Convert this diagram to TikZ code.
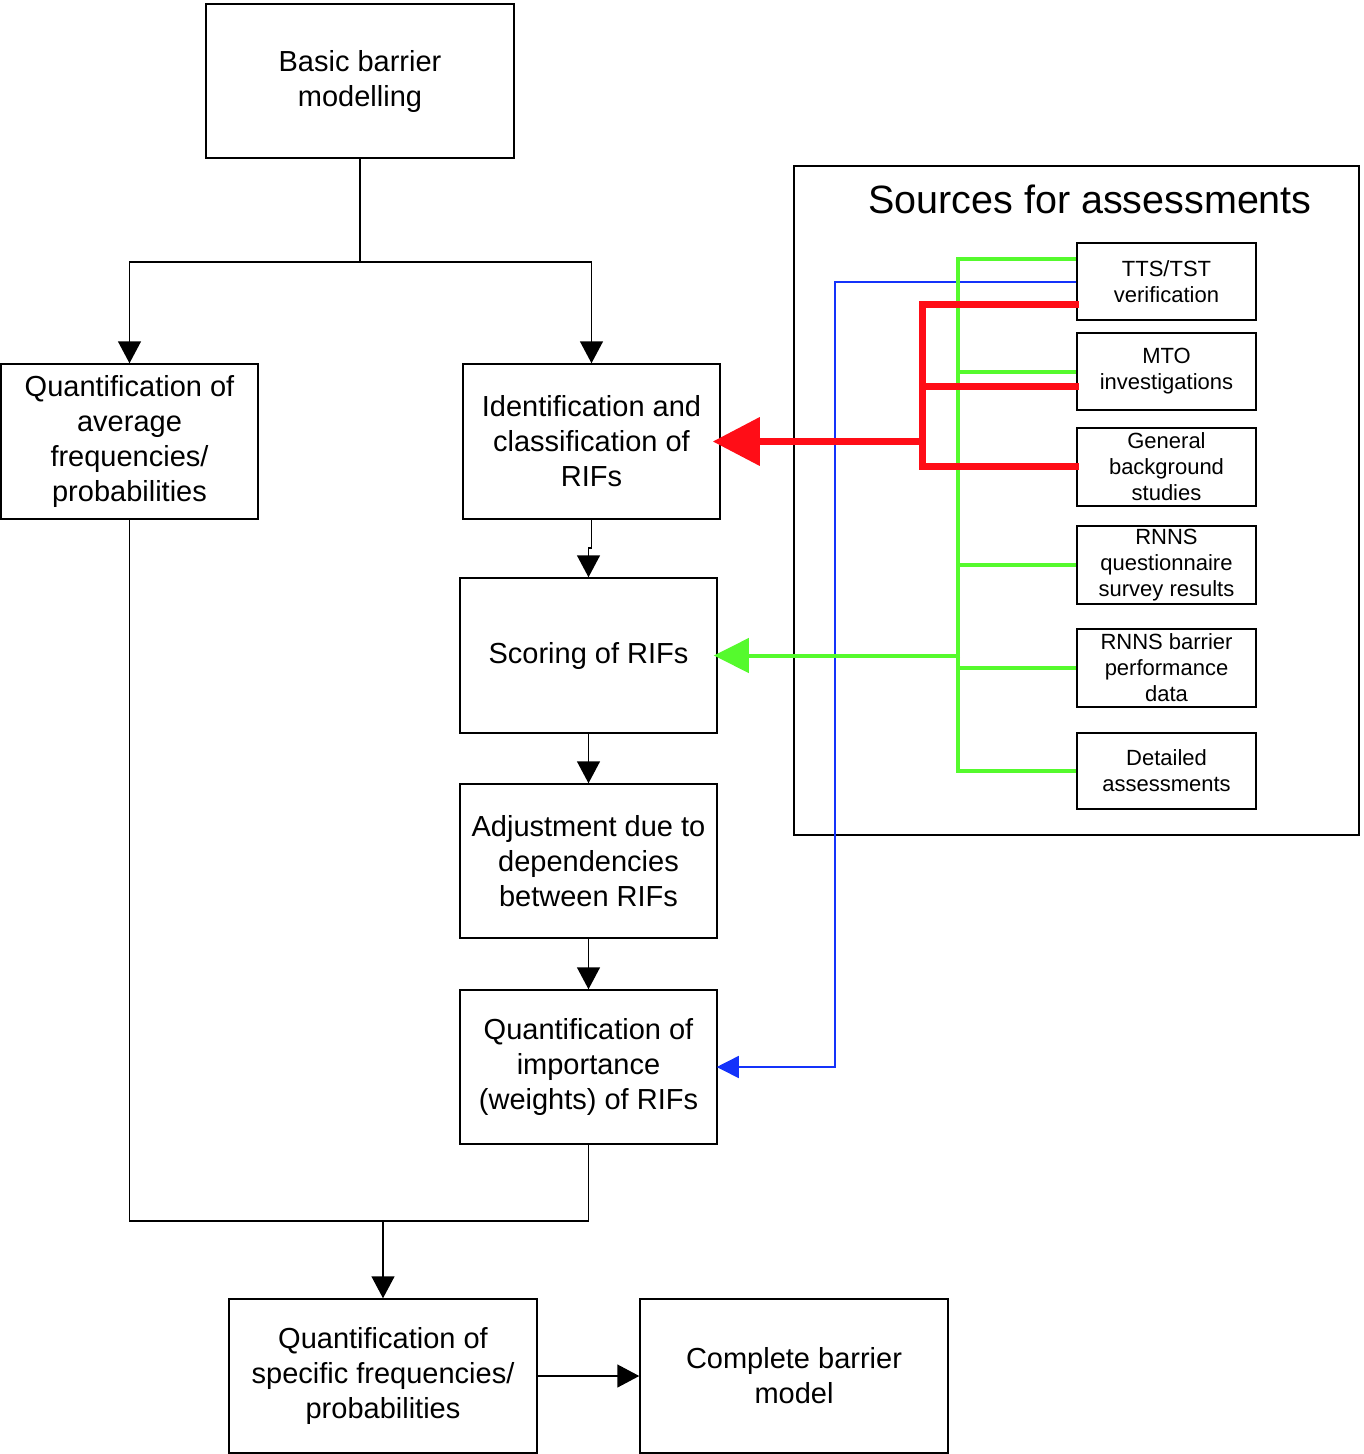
\documentclass[tikz,border=0pt]{standalone}
\usepackage{fontspec}
\setmainfont{Liberation Sans}
\usetikzlibrary{arrows.meta}
\begin{document}
\begin{tikzpicture}[x=1pt,y=-1pt,
  bigbox/.style={draw,line width=1.5pt,rectangle,inner sep=0pt,align=center,font=\fontsize{29}{35}\selectfont},
  smallbox/.style={draw,line width=1.5pt,rectangle,inner sep=0pt,align=center,minimum width=179pt,minimum height=77pt,font=\fontsize{22}{26}\selectfont},
  blk/.style={line width=1.5pt,-{Triangle[length=22pt,width=23pt]}},
  blkline/.style={line width=1.5pt},
  redc/.style={draw=rfred,line width=7pt},
  grnc/.style={draw=rfgreen,line width=4pt},
  bluc/.style={draw=rfblue,line width=1.5pt}
]
\definecolor{rfred}{RGB}{255,13,23}
\definecolor{rfgreen}{RGB}{85,250,45}
\definecolor{rfblue}{RGB}{20,50,250}
\useasboundingbox (0,0) rectangle (1363,1454);
\fill[white] (0,0) rectangle (1363,1454);

% main boxes
\node[bigbox,minimum width=308pt,minimum height=154pt] (basic) at (360,81) {Basic barrier\\modelling};
\node[bigbox,minimum width=257pt,minimum height=155pt] (qavg) at (129.5,441.5) {Quantification of\\average\\frequencies/\\probabilities};
\node[bigbox,minimum width=257pt,minimum height=155pt] (ident) at (591.5,441.5) {Identification and\\classification of\\RIFs};
\node[bigbox,minimum width=257pt,minimum height=155pt] (score) at (588.5,655.5) {Scoring of RIFs};
\node[bigbox,minimum width=257pt,minimum height=154pt] (adj) at (588.5,861) {Adjustment due to\\dependencies\\between RIFs};
\node[bigbox,minimum width=257pt,minimum height=154pt] (qimp) at (588.5,1067) {Quantification of\\importance\\(weights) of RIFs};
\node[bigbox,minimum width=308pt,minimum height=154pt] (qspec) at (383,1376) {Quantification of\\specific frequencies/\\probabilities};
\node[bigbox,minimum width=308pt,minimum height=154pt] (compl) at (794,1376) {Complete barrier\\model};

% sources frame
\node[draw,line width=1.5pt,rectangle,inner sep=0pt,minimum width=565pt,minimum height=669pt] (src) at (1076.5,500.5) {};
\node[font=\fontsize{39.5}{46}\selectfont,inner sep=0pt] (srctitle) at (1090,199) {Sources for assessments};

\node[smallbox] (tts) at (1166.5,281.5) {TTS/TST\\verification};
\node[smallbox] (mto) at (1166.5,371.5) {MTO\\investigations};
\node[smallbox,minimum height=78pt] (gen) at (1166.5,467) {General\\background\\studies};
\node[smallbox,minimum height=78pt] (rq) at (1166.5,565) {RNNS\\questionnaire\\survey results};
\node[smallbox,minimum height=78pt] (rb) at (1166.5,668) {RNNS barrier\\performance\\data};
\node[smallbox,minimum height=76pt] (det) at (1166.5,771) {Detailed\\assessments};

% black connectors
\coordinate (j1) at (360,262);
\draw[blkline] (basic.south) -- (j1);
\draw[blk] (j1) -| (qavg.north);
\draw[blk] (j1) -| (ident.north);
\draw[blk] (ident.south) -- ++(0,28) -- ++(-3,0) -- (score.north);
\draw[blk] (score.south) -- (adj.north);
\draw[blk] (adj.south) -- (qimp.north);
\coordinate (j2) at (383,1221);
\draw[blkline] (qavg.south) |- (j2) -| (qimp.south);
\draw[blk] (j2) -- (qspec.north);
\draw[blk] (qspec.east) -- (compl.west);

% blue connector
\coordinate (bl1) at (835,282);
\coordinate (bl2) at (835,1067);
\draw[bluc,-{Triangle[length=22pt,width=22pt]}] (tts.west |- bl1) -- (bl1) -- (bl2) -- ([xshift=-1pt]qimp.east);

% green connectors
\coordinate (gtop) at (958,259);
\coordinate (gbot) at (958,771);
\draw[grnc,line cap=rect] (gtop) -- (gbot);
\draw[grnc] (gtop) -- (tts.west |- gtop);
\draw[grnc] (958,372) -- (mto.west |- 0,372);
\draw[grnc] (958,565) -- (rq.west);
\draw[grnc] (958,668) -- (rb.west);
\draw[grnc] (gbot) -- (det.west);
\draw[grnc,-{Triangle[length=35pt,width=34pt]}] (960,655.5) -- ([xshift=-4pt]score.east);

% red connectors
\coordinate (rtop) at (922,304);
\coordinate (rbot) at (922,466);
\draw[redc,line cap=rect] (rtop) -- (rbot);
\draw[redc] (rtop) -- ([xshift=3pt]tts.west |- rtop);
\draw[redc] (922,386) -- ([xshift=3pt]mto.west |- 0,386);
\draw[redc] (rbot) -- ([xshift=3pt]gen.west |- rbot);
\draw[redc,-{Triangle[length=47pt,width=47pt]}] (925,441.5) -- ([xshift=-8pt]ident.east);
\end{tikzpicture}
\end{document}
